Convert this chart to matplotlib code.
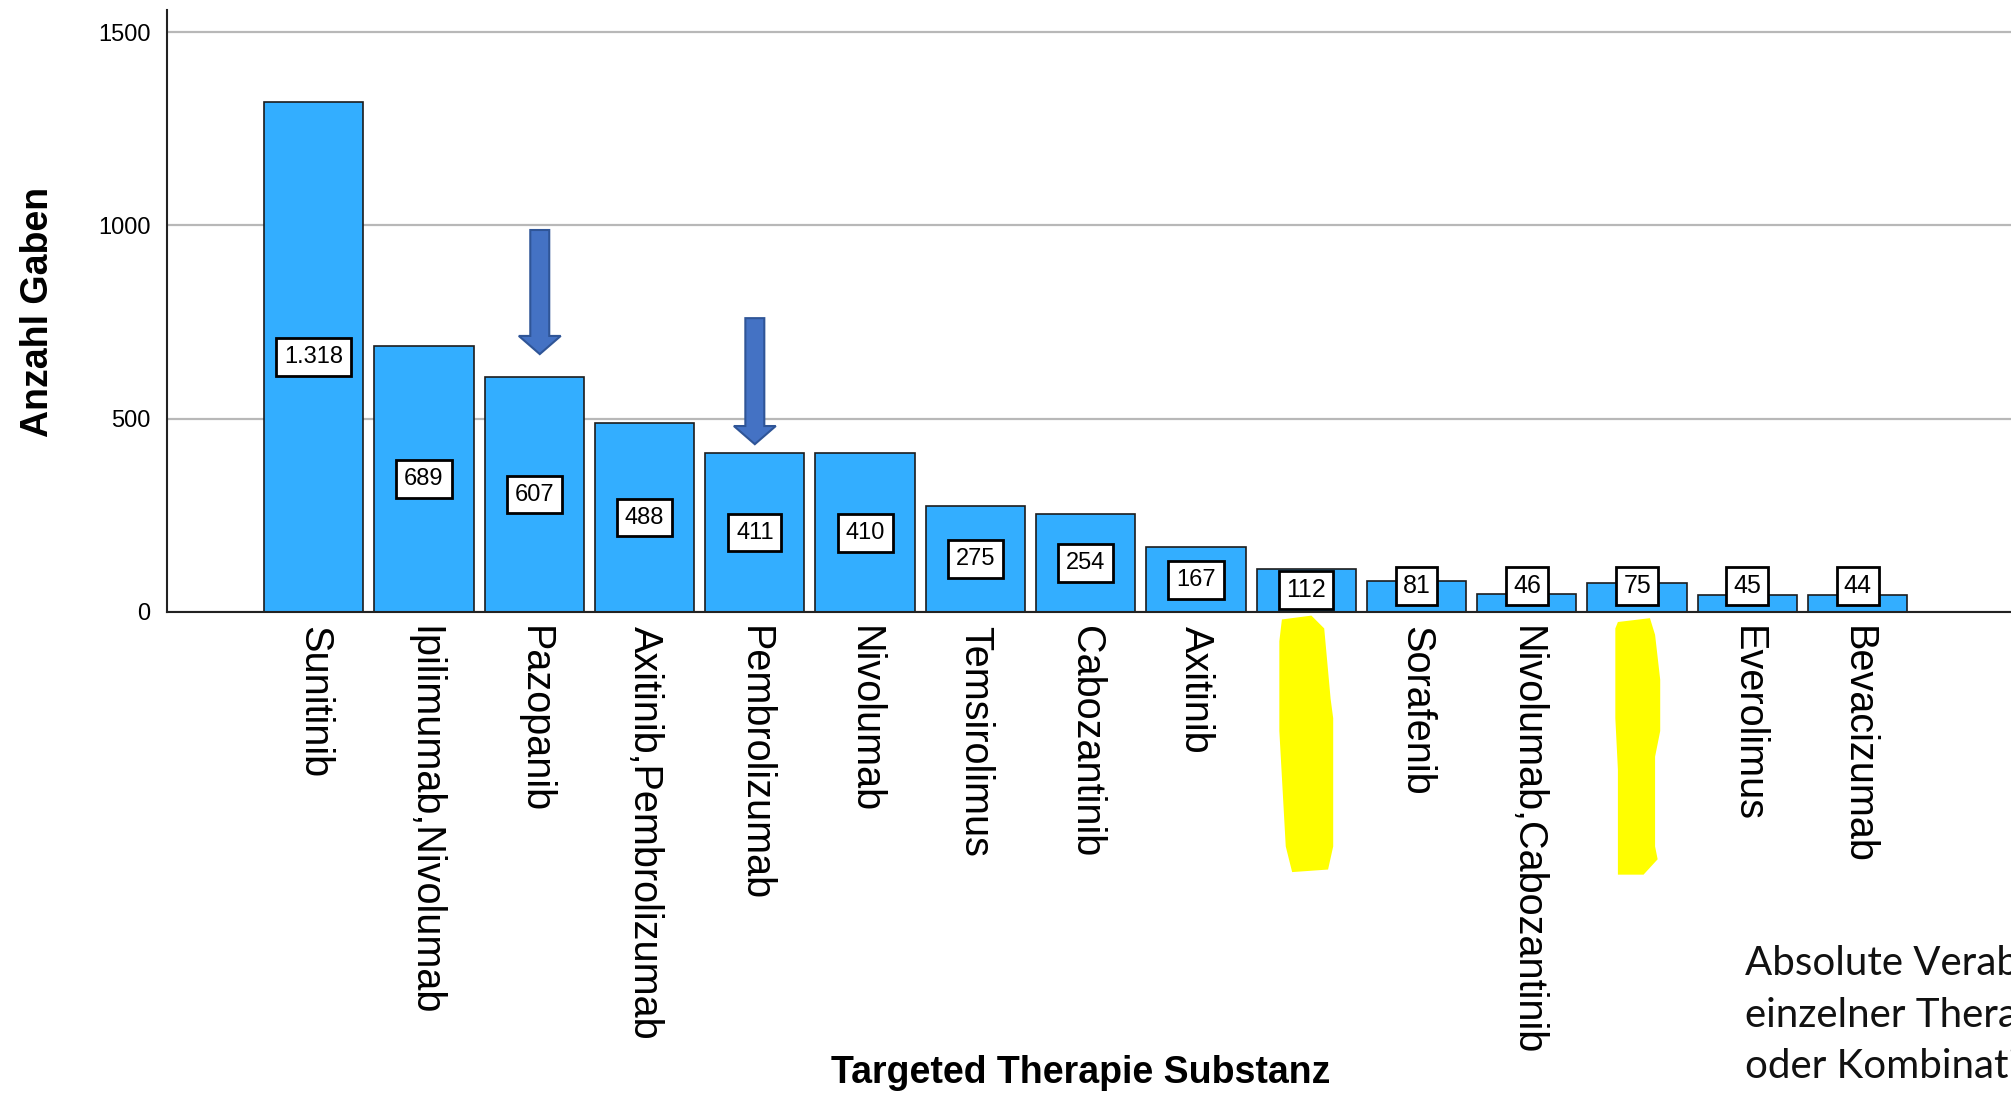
import matplotlib
matplotlib.use("Agg")
import matplotlib.pyplot as plt
from matplotlib.patches import Polygon
import numpy as np

plt.rcParams['font.family'] = ['Liberation Sans', 'DejaVu Sans']

# data
substanzen = ['Sunitinib', 'Ipilimumab,Nivolumab', 'Pazopanib', 'Axitinib,Pembrolizumab',
              'Pembrolizumab', 'Nivolumab', 'Temsirolimus', 'Cabozantinib', 'Axitinib',
              '', 'Sorafenib', 'Nivolumab,Cabozantinib', '', 'Everolimus', 'Bevacizumab']
gaben = [1318, 689, 607, 488, 411, 410, 275, 254, 167, 112, 81, 46, 75, 45, 44]
gaben_text = ['1.318', '689', '607', '488', '411', '410', '275', '254', '167',
              '112', '81', '46', '75', '45', '44']
y_ticks = [0, 500, 1000, 1500]
markiert = [2, 4]          # bars with arrows
verdeckt = [9, 12]         # labels covered by yellow marker
pfeil_oben = [988, 760]    # arrow tail heights
pfeil_spitze = [667, 434]  # arrow tip heights

W, H = 2011, 1096
fig = plt.figure(figsize=(W / 100, H / 100), dpi=100)
ax = fig.add_axes([167 / W, 1 - 612 / H, 1 - 167 / W, (612 - 10) / H])

x = np.arange(len(gaben))
ax.bar(x, gaben, width=0.9, color='#33AEFF', edgecolor='#1c1c1c', linewidth=1.2, zorder=2)

ax.set_xlim(-1.33, 15.39)
ax.set_ylim(0, 1557)
ax.set_yticks(y_ticks)
ax.set_yticklabels([str(t) for t in y_ticks], fontsize=17)
ax.set_xticks(x)
ax.set_xticklabels(substanzen, rotation=270, fontsize=28.5, ha='center', va='top')
ax.tick_params(axis='both', length=0)
ax.tick_params(axis='y', pad=12)
ax.tick_params(axis='x', pad=10)
ax.yaxis.grid(True, color='#b8b8b8', linewidth=1.6, zorder=0)
ax.set_axisbelow(True)
for s in ['top', 'right']:
    ax.spines[s].set_visible(False)
for s in ['left', 'bottom']:
    ax.spines[s].set_linewidth(1.5)
    ax.spines[s].set_color('#222222')
    ax.spines[s].set_zorder(3)

# value boxes
for i, (v, t) in enumerate(zip(gaben, gaben_text)):
    if v >= 100:
        yy = v / 2
    else:
        yy = 66
    if v > 150:
        ax.text(i, yy, t, ha='center', va='center', fontsize=17, zorder=4,
                bbox=dict(boxstyle='square,pad=0.33', fc='white', ec='black', lw=2))
    else:
        ax.text(i, yy, t, ha='center', va='center', fontsize=18, zorder=4,
                bbox=dict(boxstyle='square,pad=0.28', fc='white', ec='black', lw=2))

# arrows
sw, hw, hl = 0.086, 0.19, 47
for k, i in enumerate(markiert):
    cx = i + (0.05 if k == 0 else 0.0)
    y0, y1 = pfeil_oben[k], pfeil_spitze[k]
    pts = [(cx - sw, y0), (cx + sw, y0), (cx + sw, y1 + hl), (cx + hw, y1 + hl),
           (cx, y1), (cx - hw, y1 + hl), (cx - sw, y1 + hl)]
    ax.add_patch(Polygon(pts, closed=True, fc='#4472C4', ec='#2F5597', lw=1.5, zorder=5))

fig.text(38 / W, 1 - 312 / H, 'Anzahl Gaben', rotation=90, ha='center', va='center',
         fontsize=27, fontweight='bold')
fig.text(1081 / W, 1 - 1073 / H, 'Targeted Therapie Substanz', ha='center', va='center',
         fontsize=27, fontweight='bold')

# note at the lower right, cut off by the edge as in the original slide
notiz = ['Absolute Verabreichungen', 'einzelner Therapeutika', 'oder Kombinationen']
for k, zeile in enumerate(notiz):
    fig.text(1745 / W, 1 - (964 + 51 * k) / H, zeile, ha='left', va='center',
             fontsize=29, family=['Lato', 'DejaVu Sans'], color='#111111')

# yellow marker over hidden labels (pixel offsets from bar centre)
f = 1.2825
form1 = [(-19, 483), (4, 480), (14, 490), (19, 545), (21, 560), (21, 660), (17, 678),
         (-11, 680), (-16, 660), (-21, 570), (-21, 500)]
form2 = [(-15, 485), (10, 482), (14, 495), (18, 530), (18, 570), (14, 590), (14, 660),
         (16, 670), (5, 682), (-15, 682), (-15, 600), (-17, 560), (-17, 490)]
for i, form in zip(verdeckt, [form1, form2]):
    cxp = ax.transData.transform((i, 0))[0]
    pts = [(cxp + dx * f, H - yy * f) for dx, yy in form]
    fig.add_artist(Polygon(pts, closed=True, fc='#FFFF00', ec='none', transform=None, zorder=10))

fig.savefig('out.png', dpi=100)
